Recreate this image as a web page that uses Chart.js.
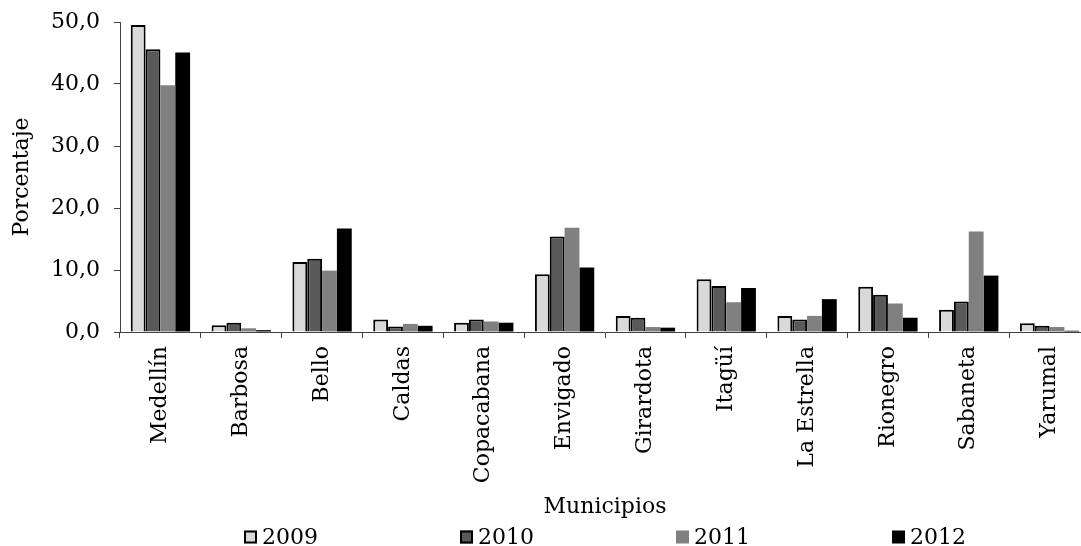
<!DOCTYPE html>
<html lang="es">
<head>
<meta charset="UTF-8">
<title>Porcentaje por municipio 2009-2012</title>
<style>
    html, body { margin: 0; padding: 0; background: #fff; overflow: hidden; }
    .chart-box { position: relative; width: 1095px; height: 546px; }
</style>
</head>
<body>
<div class="chart-box">
    <canvas id="barChart"></canvas>
</div>

<script src="https://cdn.jsdelivr.net/npm/chart.js"></script>
<script>
    // Data
    const municipios = ['Medellín', 'Barbosa', 'Bello', 'Caldas', 'Copacabana', 'Envigado',
                        'Girardota', 'Itagüí', 'La Estrella', 'Rionegro', 'Sabaneta', 'Yarumal'];
    const years = ['2009', '2010', '2011', '2012'];
    const values2009 = [49.5, 1.1, 11.3, 2.0, 1.5, 9.3, 2.6, 8.5, 2.6, 7.3, 3.6, 1.4];
    const values2010 = [45.6, 1.5, 11.8, 0.9, 2.0, 15.4, 2.3, 7.4, 2.0, 6.0, 4.9, 1.0];
    const values2011 = [39.8, 0.6, 9.9, 1.3, 1.7, 16.8, 0.8, 4.8, 2.6, 4.6, 16.2, 0.8];
    const values2012 = [45.1, 0.3, 16.7, 1.0, 1.5, 10.4, 0.7, 7.1, 5.3, 2.3, 9.1, 0.2];
    const yMin = 0;
    const yMax = 50;
    const yStep = 10;

    Chart.defaults.font.family = "'DejaVu Serif', serif";
    Chart.defaults.font.size = 22;
    Chart.defaults.color = '#000';

    const axisColor = '#404040';

    // legend drawn below the x axis title, centred on the plot area
    const bottomLegend = {
        id: 'bottomLegend',
        afterDraw(chart) {
            const ctx = chart.ctx;
            const area = chart.chartArea;
            const sets = chart.data.datasets;
            const box = 13, gap = 5, step = 216;
            const y = chart.height - 9;
            ctx.save();
            ctx.font = "22px 'DejaVu Serif'";
            ctx.textAlign = 'left';
            ctx.textBaseline = 'middle';
            const lastW = box + gap + ctx.measureText(sets[sets.length - 1].label).width;
            let x = (area.left + area.right) / 2 - ((sets.length - 1) * step + lastW) / 2;
            sets.forEach(ds => {
                ctx.fillStyle = ds.backgroundColor;
                ctx.fillRect(x, y - box / 2, box, box);
                if (ds.borderWidth) {
                    ctx.lineWidth = 2;
                    ctx.strokeStyle = ds.borderColor;
                    ctx.strokeRect(x + 1, y - box / 2 + 1, box - 2, box - 2);
                }
                ctx.fillStyle = '#000';
                ctx.fillText(ds.label, x + box + gap, y + 1);
                x += step;
            });
            ctx.restore();
        }
    };

    const barData = {
        labels: municipios,
        datasets: [
            { label: years[0], data: values2009, backgroundColor: '#d9d9d9', borderColor: '#000', borderWidth: 2 },
            { label: years[1], data: values2010, backgroundColor: '#595959', borderColor: '#000', borderWidth: 2 },
            { label: years[2], data: values2011, backgroundColor: '#808080', borderWidth: 0 },
            { label: years[3], data: values2012, backgroundColor: '#000000', borderWidth: 0 }
        ]
    };

    const ctxBar = document.getElementById('barChart').getContext('2d');
    const barChart = new Chart(ctxBar, {
        type: 'bar',
        data: barData,
        plugins: [bottomLegend],
        options: {
            responsive: true,
            maintainAspectRatio: false,
            animation: false,
            layout: { padding: { top: 22, right: 5, bottom: 26, left: 0 } },
            datasets: { bar: { categoryPercentage: 0.734, barPercentage: 1 } },
            plugins: {
                legend: { display: false },
                tooltip: { enabled: false }
            },
            scales: {
                x: {
                    grid: { drawOnChartArea: false, tickLength: 6, color: axisColor, offset: true },
                    border: { color: axisColor, width: 1 },
                    ticks: { minRotation: 90, maxRotation: 90, autoSkip: false, padding: 8 },
                    title: { display: true, text: 'Municipios', padding: 0 },
                    afterFit(scale) {
                        scale.height = 188;
                        scale.paddingLeft = 0;
                        scale.paddingRight = 0;
                    }
                },
                y: {
                    min: yMin,
                    max: yMax,
                    grid: { drawOnChartArea: false, tickLength: 6, color: axisColor },
                    border: { color: axisColor, width: 1 },
                    ticks: {
                        stepSize: yStep,
                        padding: 14,
                        callback: v => v.toFixed(1).replace('.', ',')
                    },
                    title: { display: true, text: 'Porcentaje', padding: { top: 9, bottom: 0 } },
                    afterFit(scale) {
                        scale.width = 120;
                        scale.paddingTop = 0;
                        scale.paddingBottom = 0;
                    }
                }
            }
        }
    });
</script>
</body>
</html>
